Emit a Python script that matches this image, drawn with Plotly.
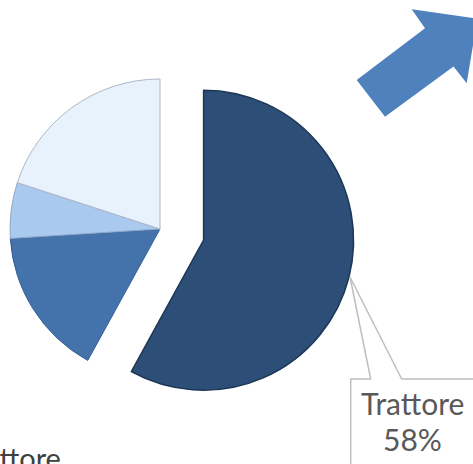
import math
import plotly.graph_objects as go

# ---- data ----
labels = ["Trattore", "Mietitrebbia", "Rimorchio", "Altro"]
values = [58, 16, 6, 20]
colors = ["#2D4E77", "#4373AA", "#A9C9EF", "#E8F2FD"]
edge_colors = ["#1E3756", "#34609A", "#8FA8C8", "#AEB8C4"]
pull_frac = 0.3  # explosion of first slice, as fraction of radius

W, H = 473, 464

def px(x):
    return x / W

def py(y):
    return 1 - y / H

# geometry of the pie (pixels)
cx, cy, r = 160, 229, 150

# bisector of the exploded slice (clockwise from 12 o'clock)
total = sum(values)
bis = math.radians((values[0] / total) * 360 / 2)
cx2 = cx + pull_frac * r * math.sin(bis)
cy2 = cy - pull_frac * r * math.cos(bis)

def dom(ccx, ccy):
    return dict(x=[px(ccx - r), px(ccx + r)], y=[py(ccy + r), py(ccy - r)])

transp = "rgba(0,0,0,0)"
rest_colors = [transp] + colors[1:]
rest_edges = [transp] + edge_colors[1:]
rest_w = [0, 1, 1, 1]
main_colors = [colors[0]] + [transp] * 3
main_edges = [edge_colors[0]] + [transp] * 3
main_w = [1.5, 0, 0, 0]

fig = go.Figure()
fig.add_trace(go.Pie(
    labels=labels, values=values, sort=False, direction="clockwise", rotation=0,
    marker=dict(colors=rest_colors, line=dict(color=rest_edges, width=rest_w)),
    textinfo="none", hoverinfo="skip", domain=dom(cx, cy), showlegend=False,
))
fig.add_trace(go.Pie(
    labels=labels, values=values, sort=False, direction="clockwise", rotation=0,
    marker=dict(colors=main_colors, line=dict(color=main_edges, width=main_w)),
    textinfo="none", hoverinfo="skip", domain=dom(cx2, cy2), showlegend=False,
))

def path(pts, close=False):
    s = "M " + " L ".join(f"{px(x):.5f},{py(y):.5f}" for x, y in pts)
    return s + (" Z" if close else "")

# callout for the Trattore label
callout = [(350.7, 480), (350.7, 379), (370.7, 379), (350, 277), (401.7, 379), (490, 379)]
# decorative arrow
arrow = [(356.7, 80), (425, 28.3), (411.7, 9.3), (477.4, 18.5), (466.7, 83.3),
         (453.5, 66.5), (385, 116.7)]

pct_text = f"{round(values[0] / total * 100)}%"

fig.update_layout(
    width=W, height=H, margin=dict(l=0, r=0, t=0, b=0),
    paper_bgcolor="white", plot_bgcolor="white",
    shapes=[
        dict(type="path", xref="paper", yref="paper", path=path(callout),
             line=dict(color="#BFBFBF", width=1.5)),
        dict(type="path", xref="paper", yref="paper", path=path(arrow, True),
             fillcolor="#4F81BD", line=dict(width=0)),
    ],
    annotations=[
        dict(text=labels[0], x=px(412), y=py(403), xref="paper", yref="paper",
             xanchor="center", yanchor="middle", showarrow=False,
             font=dict(family="Lato", size=30, color="#595959")),
        dict(text=pct_text, x=px(412), y=py(439), xref="paper", yref="paper",
             xanchor="center", yanchor="middle", showarrow=False,
             font=dict(family="Lato", size=30, color="#595959")),
        dict(text=labels[0], x=px(63), y=py(457), xref="paper", yref="paper",
             xanchor="right", yanchor="middle", showarrow=False,
             font=dict(family="Lato", size=29, color="#404040")),
    ],
)

fig.write_html(
    "out.html",
    config={"displayModeBar": False},
    post_script="document.body.style.margin='0';document.body.style.overflow='hidden';",
)
